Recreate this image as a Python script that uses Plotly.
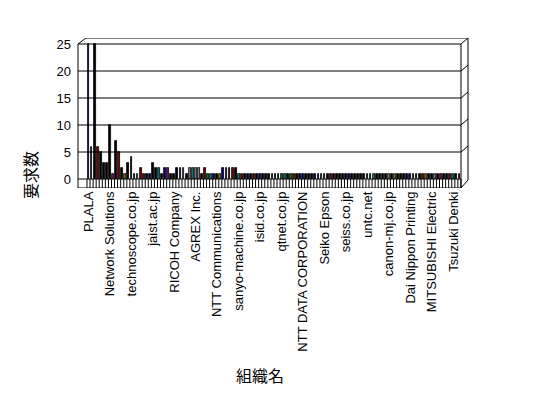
import plotly.graph_objects as go

# ---- data ----
values = [
    25, 6, 25, 6, 5, 3, 3, 10, 1, 7,
    5, 2, 1, 3, 4, 1, 1, 2, 1, 1,
    1, 3, 2, 2, 1, 2, 2, 1, 1, 2,
    2, 2, 1, 2, 2, 2, 2, 1, 2, 1,
    1, 1, 1, 1, 2, 2, 2, 2, 2, 1,
    1, 1, 1, 1, 1, 1, 1, 1, 1, 1,
    1, 1, 1, 1, 1, 1, 1, 1, 1, 1,
    1, 1, 1, 1, 1, 1, 1, 1, 1, 1,
    1, 1, 1, 1, 1, 1, 1, 1, 1, 1,
    1, 1, 1, 1, 1, 1, 1, 1, 1, 1,
    1, 1, 1, 1, 1, 1, 1, 1, 1, 1,
    1, 1, 1, 1, 1, 1, 1, 1, 1, 1,
    1, 1,
]
tick_labels = [
    "PLALA", "Network Solutions", "technoscope.co.jp", "jaist.ac.jp",
    "RICOH Company", "AGREX Inc.", "NTT Communications", "sanyo-machine.co.jp",
    "isid.co.jp", "qtnet.co.jp", "NTT DATA CORPORATION", "Seiko Epson",
    "seiss.co.jp", "untc.net", "canon-mj.co.jp", "Dai Nippon Printing",
    "MITSUBISHI Electric", "Tsuzuki Denki",
]
label_step = 7
y_ticks = [0, 5, 10, 15, 20, 25]
x_title = "組織名"
y_title = "要求数"

# ---- styles ----
NAVY, RED, GRN, PUR, TEAL, OLV, GRY = ("#000080", "#800000", "#008000",
                                       "#800080", "#008080", "#808000", "#808080")
accent = {0: NAVY, 1: PUR, 3: RED, 8: PUR, 10: RED, 12: OLV, 16: TEAL, 17: RED,
          18: RED, 20: NAVY, 23: TEAL, 25: NAVY, 26: PUR, 30: NAVY, 31: GRY,
          33: GRY, 34: TEAL, 35: GRY, 36: GRY, 38: RED, 39: GRN, 40: TEAL,
          41: NAVY, 43: OLV, 44: NAVY, 45: NAVY, 47: RED, 49: TEAL, 50: RED,
          52: NAVY, 54: RED, 56: NAVY, 60: NAVY, 62: NAVY, 63: GRN, 64: TEAL,
          66: GRN, 67: RED, 70: NAVY, 74: NAVY, 76: NAVY, 79: RED, 85: NAVY,
          93: TEAL, 98: GRY, 100: OLV, 105: NAVY, 109: RED, 110: OLV, 113: GRY,
          115: PUR, 118: RED, 119: TEAL}
n = len(values)
bar_colors = [accent.get(i, "#000000") for i in range(n)]
xs = list(range(n))

OFF = 8                                 # page body margin in the browser
W, H = 548 - OFF, 398 - OFF
L, R, T, B = 78, 468, 38, 188          # plot area in window px
px_per_unit = 5.4
y_lo = -(B - 179) / px_per_unit
y_hi = (179 - T) / px_per_unit
cat_px = 374 / n
x_lo = (L - 88.5) / cat_px
x_hi = (R - 88.5) / cat_px


def px(xp):
    return (xp - L) / (R - L)


fig = go.Figure(go.Bar(
    x=xs, y=values, width=0.6,
    marker=dict(color=bar_colors, line=dict(color="black", width=0.8)),
    hoverinfo="skip",
))

shapes = []
line = dict(color="black", width=1)
fr = px(461)
for v in y_ticks[1:]:
    shapes.append(dict(type="line", xref="paper", yref="y", x0=0, x1=fr, y0=v, y1=v, line=line))
    shapes.append(dict(type="line", xref="paper", yref="y", x0=fr, x1=1, y0=v, y1=v + 6 / px_per_unit, line=line))
shapes += [
    dict(type="line", xref="paper", yref="y", x0=0, x1=0, y0=y_lo, y1=25, line=line),
    dict(type="line", xref="paper", yref="y", x0=0, x1=px(86), y0=25, y1=y_hi, line=line),
    dict(type="line", xref="paper", yref="y", x0=px(86), x1=1, y0=y_hi, y1=y_hi, line=line),
    dict(type="line", xref="paper", yref="y", x0=1, x1=1, y0=y_hi, y1=-1 / px_per_unit, line=line),
    dict(type="line", xref="paper", yref="y", x0=fr, x1=fr, y0=25, y1=y_lo, line=line),
    dict(type="line", xref="paper", yref="y", x0=fr, x1=1, y0=y_lo, y1=-1 / px_per_unit, line=line),
    dict(type="line", xref="paper", yref="y", x0=0, x1=fr, y0=y_lo, y1=y_lo, line=line),
    dict(type="line", xref="paper", yref="y", x0=0, x1=fr, y0=0, y1=0, line=line),
]
for i in range(n + 1):
    shapes.append(dict(type="line", xref="x", yref="y", x0=i - 0.5, x1=i - 0.5,
                       y0=0, y1=y_lo, line=line))

fig.update_layout(
    width=W, height=H,
    margin=dict(l=L - OFF, r=548 - R, t=T - OFF, b=398 - B, pad=0),
    paper_bgcolor="white", plot_bgcolor="white",
    showlegend=False,
    bargap=0,
    font=dict(family="Liberation Sans", size=13, color="black"),
    xaxis=dict(range=[x_lo, x_hi], showgrid=False, zeroline=False, showline=False,
               tickmode="array", tickvals=[i * label_step for i in range(len(tick_labels))],
               ticktext=tick_labels, tickangle=-90, ticks="",
               tickfont=dict(family="Liberation Sans", size=13)),
    yaxis=dict(range=[y_lo, y_hi], showgrid=False, zeroline=False, showline=False,
               tickmode="array", tickvals=y_ticks, ticktext=[str(v) for v in y_ticks],
               ticks="", ticklabelstandoff=6,
               tickfont=dict(family="Liberation Sans", size=13)),
    shapes=shapes,
    annotations=[
        dict(text=x_title, xref="paper", yref="paper", x=px(260), y=(B - 375) / (B - T),
             showarrow=False, xanchor="center", yanchor="middle",
             font=dict(family="Noto Sans CJK JP", size=16)),
        dict(text=y_title, xref="paper", yref="paper", x=px(30), y=(B - 175) / (B - T),
             showarrow=False, xanchor="center", yanchor="middle", textangle=-90,
             font=dict(family="Noto Sans CJK JP", size=16)),
    ],
)

fig.write_html("out.html")
